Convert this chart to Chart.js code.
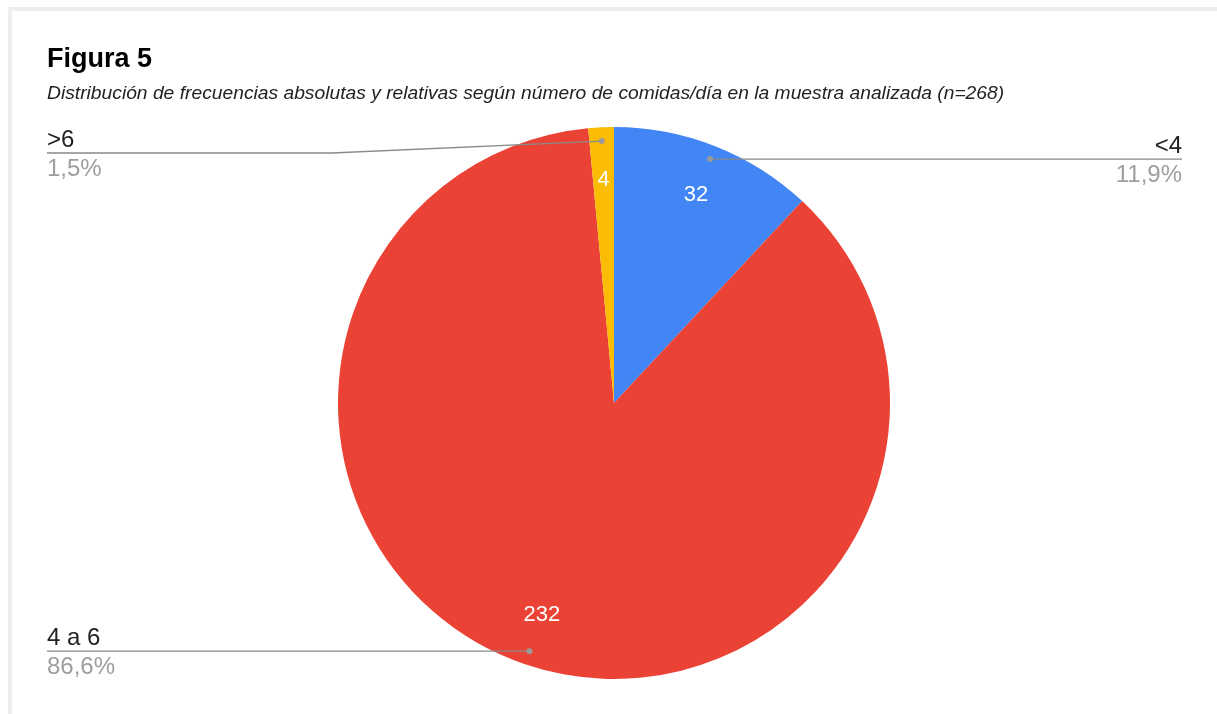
<!DOCTYPE html>
<html>
<head>
<meta charset="utf-8">
<script src="https://cdn.jsdelivr.net/npm/chart.js@4"></script>
<style>
  html, body { margin: 0; padding: 0; background: #fff; }
  body { width: 1217px; height: 714px; position: relative; overflow: hidden; }
  .frame {
    position: absolute; left: 8px; top: 7px; right: -10px; bottom: -10px;
    border-left: 4px solid #eeeeee; border-top: 4px solid #eeeeee;
  }
  #chart { position: absolute; left: 0; top: 0; }
</style>
</head>
<body>
<div class="frame"></div>
<canvas id="chart" width="1217" height="714"></canvas>
<script>
  const labels = ['<4', '4 a 6', '>6'];
  const counts = [32, 232, 4];
  const colors = ['#4285F4', '#EA4335', '#FBBC04'];

  const total = counts.reduce((a, b) => a + b, 0);
  const pct = (v) => (v / total * 100).toFixed(1).replace('.', ',') + '%';

  // labels inside the slices and outside with leader lines
  const sliceLabels = {
    id: 'sliceLabels',
    afterDatasetsDraw(chart) {
      const ctx = chart.ctx;
      const meta = chart.getDatasetMeta(0);
      const left = 47, right = 1182, minLineY = 153;
      ctx.save();
      meta.data.forEach((arc, i) => {
        const p = arc.getProps(['x', 'y', 'startAngle', 'endAngle', 'outerRadius'], true);
        const mid = (p.startAngle + p.endAngle) / 2;
        const r = p.outerRadius;

        // value inside
        ctx.fillStyle = '#ffffff';
        ctx.font = '22px Arial, "Liberation Sans", sans-serif';
        ctx.textAlign = 'center';
        ctx.textBaseline = 'middle';
        ctx.fillText(String(counts[i]), p.x + Math.cos(mid) * r * 0.81, p.y + Math.sin(mid) * r * 0.81);

        // leader line
        const dx = p.x + Math.cos(mid) * r * 0.95;
        const dy = p.y + Math.sin(mid) * r * 0.95;
        const onLeft = dx < p.x;
        const lineY = Math.max(dy, minLineY);
        const endX = onLeft ? left : right;
        ctx.strokeStyle = '#8a8a8a';
        ctx.lineWidth = 1.3;
        ctx.beginPath();
        ctx.moveTo(dx, dy);
        if (Math.abs(lineY - dy) > 0.5) {
          const elbowX = onLeft ? dx - 270 : dx + 270;
          ctx.lineTo(elbowX, lineY);
        }
        ctx.lineTo(endX, lineY);
        ctx.stroke();
        ctx.fillStyle = '#999999';
        ctx.beginPath();
        ctx.arc(dx, dy, 3, 0, Math.PI * 2);
        ctx.fill();

        // label text
        ctx.textAlign = onLeft ? 'left' : 'right';
        ctx.font = '24px Arial, "Liberation Sans", sans-serif';
        ctx.textBaseline = 'alphabetic';
        ctx.fillStyle = '#222222';
        ctx.fillText(labels[i], endX, lineY - 6);
        ctx.fillStyle = '#9e9e9e';
        ctx.fillText(pct(counts[i]), endX, lineY + 23);
      });
      ctx.restore();
    }
  };

  new Chart(document.getElementById('chart'), {
    type: 'pie',
    data: {
      labels: labels,
      datasets: [{
        data: counts,
        backgroundColor: colors,
        borderWidth: 0,
      }],
    },
    options: {
      responsive: false,
      animation: false,
      layout: { padding: { left: 47, right: 36, top: 0, bottom: 35 } },
      plugins: {
        legend: { display: false },
        tooltip: { enabled: false },
        title: {
          display: true,
          text: 'Figura 5',
          align: 'start',
          color: '#000000',
          font: { family: 'Arial, "Liberation Sans", sans-serif', size: 27, weight: 'bold', lineHeight: 1.2 },
          padding: { top: 43.8, bottom: 3 },
        },
        subtitle: {
          display: true,
          text: 'Distribución de frecuencias absolutas y relativas según número de comidas/día en la muestra analizada (n=268)',
          align: 'start',
          color: '#222222',
          font: { family: 'Arial, "Liberation Sans", sans-serif', size: 19.25, style: 'italic', lineHeight: 1.2 },
          padding: { top: 2.8, bottom: 21.9 },
        },
      },
    },
    plugins: [sliceLabels],
  });
</script>
</body>
</html>
